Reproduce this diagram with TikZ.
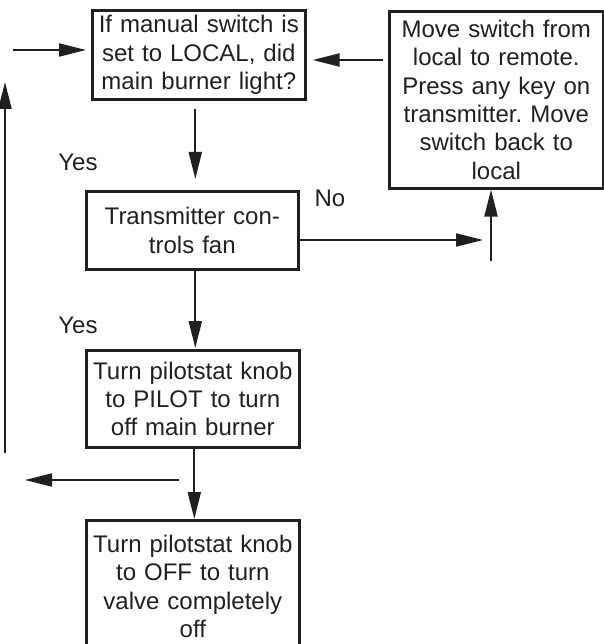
\documentclass[tikz,border=0pt]{standalone}
\usepackage{fontspec}
\setmainfont{Liberation Sans}
\usetikzlibrary{arrows.meta}
\frenchspacing
\definecolor{ink}{RGB}{35,31,32}
\begin{document}
\begin{tikzpicture}[x=1pt,y=-1pt,
  box/.style={draw=ink, text=ink, line width=2.6pt, align=center, text width=210pt,
    font=\fontsize{24}{28.3}\selectfont, inner sep=0pt, anchor=north west},
  lbl/.style={text=ink, font=\fontsize{24}{28.3}\selectfont, inner sep=0pt},
  arr/.style={draw=ink, line width=2.1pt, -{Triangle[length=27pt,width=13pt]}},
  ln/.style={line width=2pt}]
\useasboundingbox (0,0) rectangle (603,644);
% boxes
\node[box, minimum width=213pt, minimum height=89pt] (q) at (91,9)
  {If manual switch is\\set to LOCAL, did\\main burner light?};
\node[box, minimum width=214pt, minimum height=177pt] (ms) at (388,10)
  {Move switch from\\local to remote.\\Press any key on\\transmitter. Move\\switch back to\\local};
\node[box, minimum width=212pt, minimum height=78pt] (tf) at (85,190)
  {Transmitter con-\\trols fan};
\node[box, minimum width=213pt, minimum height=97pt] (pk) at (85,349)
  {Turn pilotstat knob\\to PILOT to turn\\off main burner};
\node[box, minimum width=213pt, minimum height=132pt] (off) at (85,519)
  {Turn pilotstat knob\\to OFF to turn\\valve completely\\off};
% labels
\node[lbl] (yes1) at (78,162) {Yes};
\node[lbl] (yes2) at (78,325) {Yes};
\node[lbl] (no) at (330,198) {No};
% free ends
\coordinate (inL) at (13,50);
\coordinate (r60) at (0,60);
\coordinate (noStart) at (297,240);
\coordinate (noTip) at (483,240);
\coordinate (vb) at (491,261);
\coordinate (lA) at (179,480);
\coordinate (lB) at (25,480);
\coordinate (vB) at (5,453);
\coordinate (vT) at (5,82);
% connectors
\draw[arr, shorten >=5pt] (inL) -- (inL -| q.west);
\draw[arr, shorten <=5pt, shorten >=6pt] (ms.west |- r60) -- (q.east |- r60);
\draw[arr, shorten <=8pt, shorten >=11pt] ([xshift=-3.5pt]q.south) -- ([xshift=-3.5pt]q.south |- tf.north);
\draw[arr] (noStart -| tf.east) -- (noTip);
\draw[arr] (vb) -- (vb |- ms.south);
\draw[arr, shorten >=1pt] ([xshift=3pt]tf.south) -- ([xshift=3pt]tf.south |- pk.north);
\draw[arr] ([xshift=1.5pt]pk.south) -- ([xshift=1.5pt]pk.south |- off.north);
\draw[arr] (lA) -- (lB);
\draw[arr] (vB) -- (vT);
\end{tikzpicture}
\end{document}
